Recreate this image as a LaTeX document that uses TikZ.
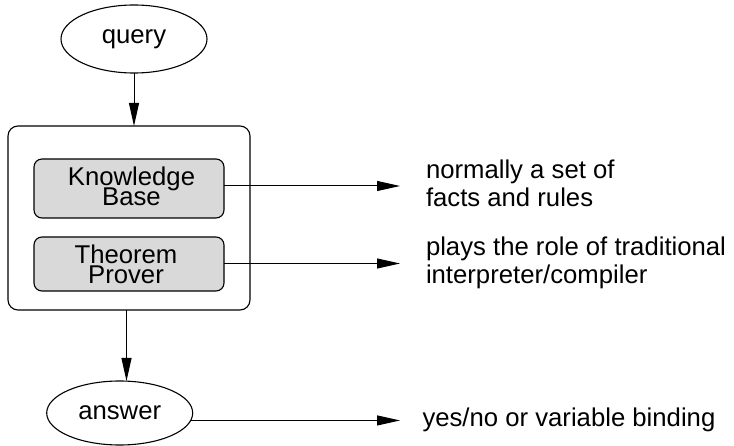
\documentclass[tikz,border=0pt]{standalone}
\usepackage{fontspec}
\setmainfont{Liberation Sans}
\usetikzlibrary{arrows.meta,shapes.geometric}
\definecolor{boxgray}{RGB}{217,217,217}
% two-line box labels set closer than the natural line distance
\newcommand\tightlabelfont{\fontsize{25.7}{19.7}\selectfont\lineskiplimit-50pt\relax}
\begin{document}
\begin{tikzpicture}[x=1pt,y=-1pt,
  every node/.style={inner sep=0pt,outer sep=0pt},
  big/.style={font=\fontsize{25.7}{27.7}\selectfont},
  tight/.style={font={\tightlabelfont},align=center},
  oval/.style={ellipse,draw,line width=1.1pt,big},
  frame/.style={draw,rounded corners=10pt,line width=1.1pt},
  part/.style={draw,fill=boxgray,rounded corners=8pt,line width=1.1pt,
               minimum width=190pt},
  note/.style={big,align=left,anchor=west},
  arr/.style={line width=1pt,-{Triangle[length=23pt,width=10pt]}}]
\useasboundingbox (0,0) rectangle (734,446);

% query and answer
\node[oval,minimum width=146pt,minimum height=68pt] (query) at (134,39) {query};
\node[oval,minimum width=146pt,minimum height=64pt] (answer) at (119.7,413) {answer};

% the logic program: knowledge base plus theorem prover
\node[frame,minimum width=242pt,minimum height=184pt] (outer) at (129,218) {};
\node[part,minimum height=59pt] (KB) at (129,188.5) {};
\node[part,minimum height=54pt] (TP) at (129,264) {};
\node[tight] (kbtext) at (131.5,186) {Knowledge\\Base};
\node[tight] (tptext) at (126,264.1) {Theorem\\Prover};

% explanations
\node[note] (kbnote) at (426,183.5) {normally a set of\\facts and rules};
\node[note] (tpnote) at (426,263.1) {plays the role of traditional\\interpreter/compiler};
\node[big,anchor=base west] (annote) at (422.5,427) {yes/no or variable binding};

% connectors
\coordinate (ain) at (126.5,381);
\coordinate (kbtip) at (400,186);
\coordinate (tptip) at (400,263.5);
\coordinate (antip) at (400,421);
\draw[arr] (query.south) -- (query.south |- outer.north);
\draw[arr] (outer.south -| ain) -- (ain);
\draw[arr] (KB.east |- kbtip) -- (kbtip);
\draw[arr] (TP.east |- tptip) -- (tptip);
\draw[arr] (answer.-6.5) -- (answer.-6.5 -| antip);
\end{tikzpicture}
\end{document}
